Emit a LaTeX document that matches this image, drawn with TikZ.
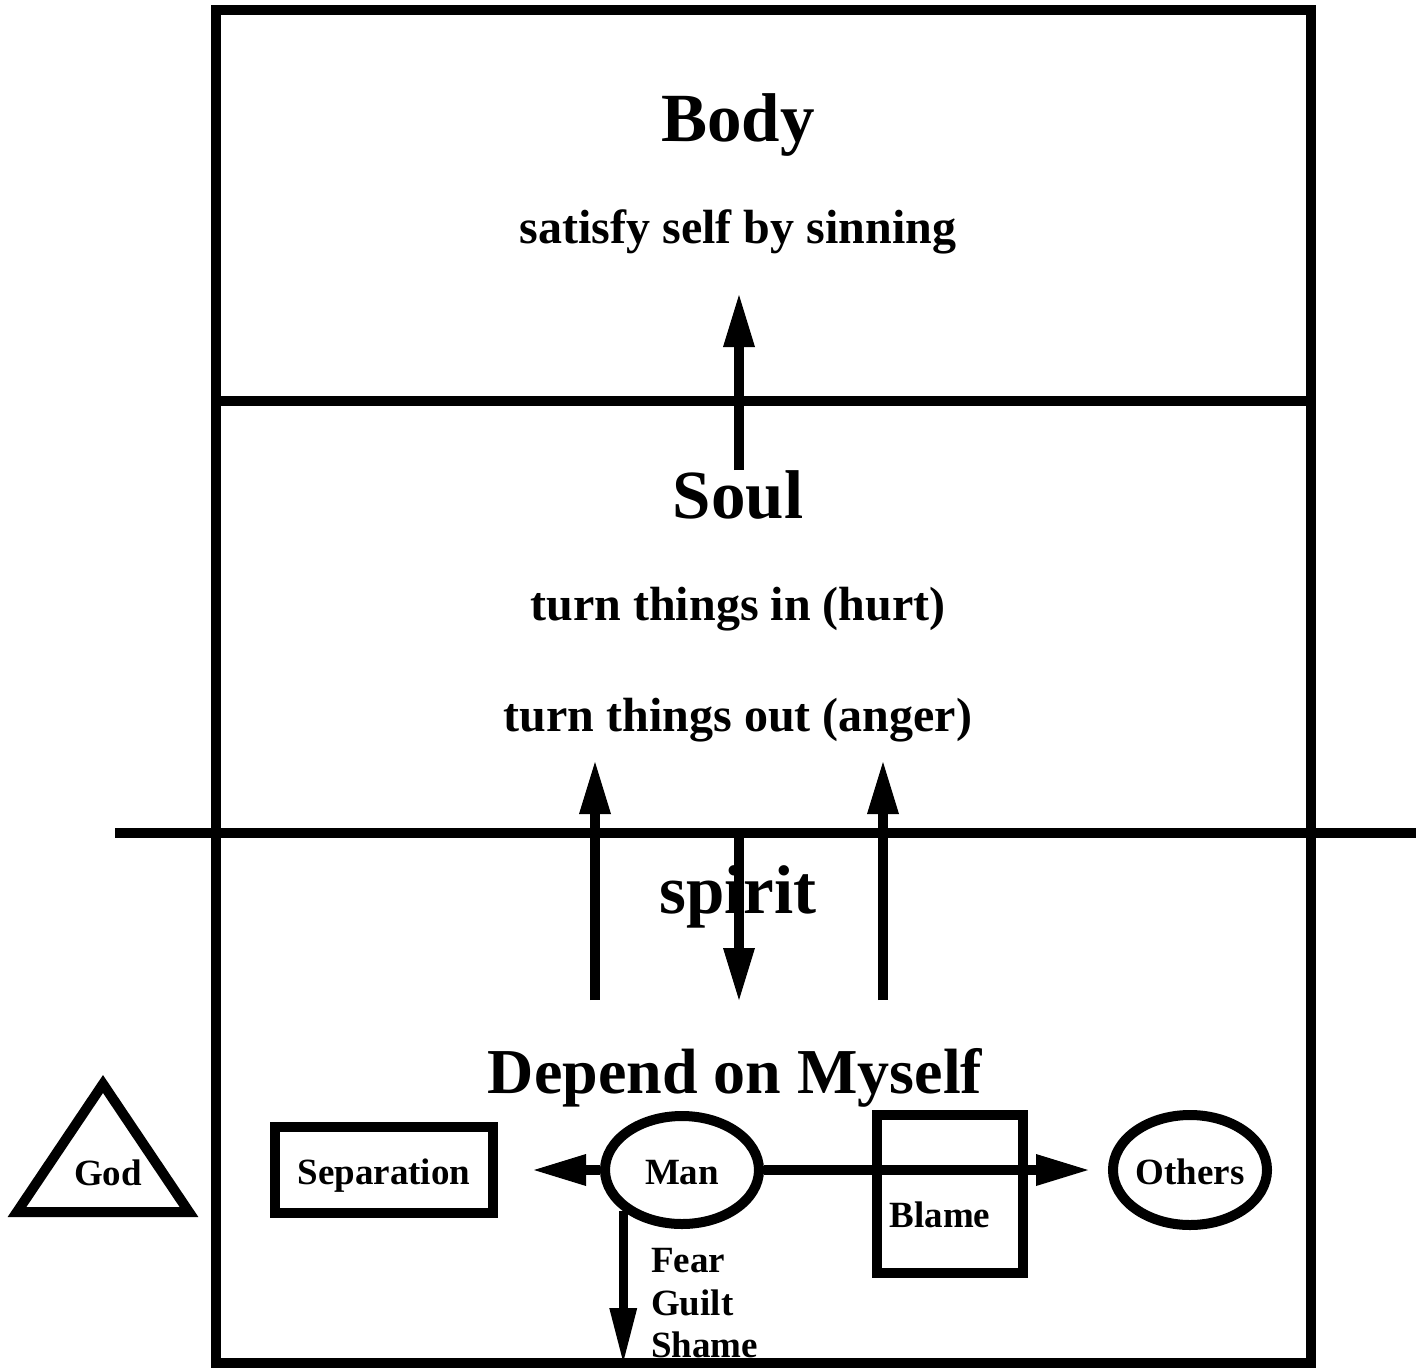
\documentclass[tikz,border=0pt]{standalone}
\usepackage{fontspec}
\setmainfont{Liberation Serif}
\usetikzlibrary{arrows.meta,shapes.geometric}

\tikzset{
  heavy/.style={line width=10pt},
  bigarrow/.style={line width=10pt,-{Triangle[length=52pt,width=32pt,line width=0pt]}},
  title/.style={font=\fontsize{69}{69}\selectfont\bfseries,anchor=base},
  subtitle/.style={font=\fontsize{48}{48}\selectfont\bfseries,anchor=base},
  headline/.style={font=\fontsize{64}{64}\selectfont\bfseries,anchor=base},
  smalltext/.style={font=\fontsize{37}{37}\selectfont\bfseries,inner sep=0pt},
  box/.style={draw,line width=10pt,rectangle,smalltext,text height=29pt,text depth=0pt},
  oval/.style={draw,line width=10pt,ellipse,smalltext,text height=29pt,text depth=0pt}
}

\begin{document}
\begin{tikzpicture}[x=1pt,y=-1pt]
    \useasboundingbox (0,0) rectangle (1416,1368);

    % frame and layers
    \draw[heavy] (216,10) rectangle (1311,1363);
    \draw[heavy] (216,401) -- (1311,401);
    \draw[heavy] (115,833) -- (1416,833);

    % headings
    \node[title] (body) at (738,141) {Body};
    \node[subtitle] (bodytext) at (738,243) {satisfy self by sinning};
    \node[title] (soul) at (738,518) {Soul};
    \node[subtitle] (hurt) at (738,620) {turn things in (hurt)};
    \node[subtitle] (anger) at (738,731) {turn things out (anger)};
    \node[title] (spirit) at (738,913) {spirit};
    \node[headline] (depend) at (735,1093) {Depend on Myself};

    % vertical arrows
    \coordinate (soulfoot) at (739,470);
    \coordinate (bodytip) at (739,295);
    \draw[bigarrow] (soulfoot) -- (bodytip);

    \coordinate (leftfoot) at (595,1000);
    \coordinate (lefttip) at (595,762);
    \draw[bigarrow] (leftfoot) -- (lefttip);

    \coordinate (rightfoot) at (883,1000);
    \coordinate (righttip) at (883,762);
    \draw[bigarrow] (rightfoot) -- (righttip);

    \coordinate (spirittop) at (739,833);
    \coordinate (spirittip) at (739,1000);
    \draw[bigarrow] (spirittop) -- (spirittip);

    % God
    \draw[heavy,line join=miter] (17,1212) -- (103,1084) -- (189,1212) -- cycle;
    \node[smalltext,anchor=base] (god) at (108,1185) {God};

    % bottom row
    \node[box,minimum width=218pt,minimum height=86pt] (separation) at (384,1170) {Separation};
    \node[oval,minimum width=154pt,minimum height=108pt] (man) at (682,1170) {Man};
    \node[oval,minimum width=146pt,minimum height=110pt] (others) at (1190,1170) {Others};
    \node[draw,line width=10pt,minimum width=146pt,minimum height=158pt] (blame) at (950,1194) {};
    \node[smalltext,anchor=base] (blametext) at (940,1227) {Blame};

    \coordinate (septip) at (534,1170);
    \draw[bigarrow] (man.west) -- (septip);
    \coordinate (otherstip) at (1088,1170);
    \draw[bigarrow] (man.east) -- (otherstip);

    \coordinate (shametip) at (619,1362);
    \draw[line width=9pt,-{Triangle[length=54pt,width=28pt,line width=0pt]}] (man.215) -- (man.215 |- shametip);

    \node[smalltext,anchor=base west] (fear) at (651,1272) {Fear};
    \node[smalltext,anchor=base west] (guilt) at (651,1315) {Guilt};
    \node[smalltext,anchor=base west] (shame) at (651,1357) {Shame};

\end{tikzpicture}
\end{document}
